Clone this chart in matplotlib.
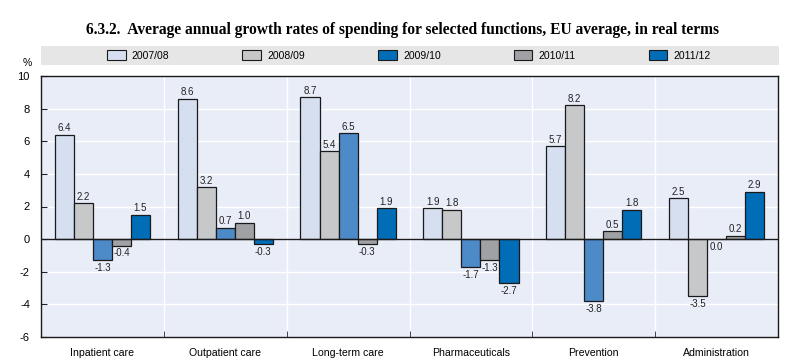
import matplotlib.pyplot as plt
import numpy as np
from matplotlib.patches import Rectangle, Patch

# Data
categories = ["Inpatient care", "Outpatient care", "Long-term care",
              "Pharmaceuticals", "Prevention", "Administration"]
periods = ["2007/08", "2008/09", "2009/10", "2010/11", "2011/12"]
v0708 = [6.4, 8.6, 8.7, 1.9, 5.7, 2.5]
v0809 = [2.2, 3.2, 5.4, 1.8, 8.2, -3.5]
v0910 = [-1.3, 0.7, 6.5, -1.7, -3.8, 0.0]
v1011 = [-0.4, 1.0, -0.3, -1.3, 0.5, 0.2]
v1112 = [1.5, -0.3, 1.9, -2.7, 1.8, 2.9]
series = [v0708, v0809, v0910, v1011, v1112]

bar_colors = ["#d5dff0", "#c7c8ca", "#4d8ac8", "#a0a1a4", "#006db6"]
legend_colors = ["#d5dff0", "#c7c8ca", "#006db6", "#a0a1a4", "#006db6"]

plt.rcParams['font.family'] = ['Liberation Sans', 'DejaVu Sans']
plt.rcParams['axes.unicode_minus'] = False

fig = plt.figure(figsize=(8.08, 3.63), dpi=100)
ax = fig.add_axes([41 / 808, 1 - 337 / 363, 737 / 808, 261 / 363])
ax.set_facecolor("#e9edf8")

x = np.arange(len(categories))
width = 0.155
offsets = (np.arange(5) - 2) * width

for i, vals in enumerate(series):
    bars = ax.bar(x + offsets[i], vals, width, color=bar_colors[i],
                  edgecolor="#1a1a1a", linewidth=0.9, zorder=3)
    for b, v in zip(bars, vals):
        cx = b.get_x() + b.get_width() / 2
        if v > 0:
            ax.annotate(f"{v:.1f}", (cx, v), xytext=(0, 1), textcoords="offset points",
                        ha="center", va="bottom", fontsize=7, color="#222222")
        else:
            ax.annotate(f"{v:.1f}", (cx, v), xytext=(0, -2), textcoords="offset points",
                        ha="center", va="top", fontsize=7, color="#222222")

ax.set_xlim(-0.5, len(categories) - 0.5)
ax.set_ylim(-6, 10)
ax.set_yticks(np.arange(-6, 11, 2))
ax.set_xticks(x)
ax.set_xticklabels(categories, fontsize=7.6)
ax.set_xticks(np.arange(0.5, len(categories) - 0.5, 1), minor=True)
ax.tick_params(axis="x", which="major", length=0, pad=8)
ax.tick_params(axis="x", which="minor", direction="in", length=4, color="#222222")
ax.tick_params(axis="y", direction="in", length=4, labelsize=8, pad=8, color="#222222")

# white grid
for yv in np.arange(-4, 10, 2):
    ax.axhline(yv, color="white", linewidth=1.0, zorder=1)
for xv in np.arange(0.5, len(categories) - 0.5, 1):
    ax.axvline(xv, color="white", linewidth=1.0, zorder=1)
ax.axhline(0, color="#1a1a1a", linewidth=1.0, zorder=4)

for s in ax.spines.values():
    s.set_color("#1a1a1a")
    s.set_linewidth(1.0)

# % label
fig.text(27 / 808, 1 - 63 / 363, "%", fontsize=7.5, ha="center", va="center")

# Title
fig.text(0.498, 1 - 30 / 363,
         "6.3.2.  Average annual growth rates of spending for selected functions, EU average, in real terms",
         fontsize=11.2, fontweight="bold", ha="center", va="center",
         family=["Liberation Serif", "DejaVu Serif"])

# Legend band
fig.patches.append(Rectangle((41 / 808, 1 - 65 / 363), 738 / 808, 19 / 363,
                             transform=fig.transFigure, facecolor="#e6e6e6",
                             edgecolor="none", zorder=0))
handles = [Patch(facecolor=c, edgecolor="#1a1a1a", linewidth=0.8) for c in legend_colors]
fig.legend(handles, periods, loc="center", bbox_to_anchor=(0.506, 1 - 55.5 / 363),
           ncol=5, frameon=False, fontsize=7.5, handlelength=1.8, handleheight=1.0,
           handletextpad=0.6, columnspacing=7.0)

fig.savefig("out.png", dpi=100)
